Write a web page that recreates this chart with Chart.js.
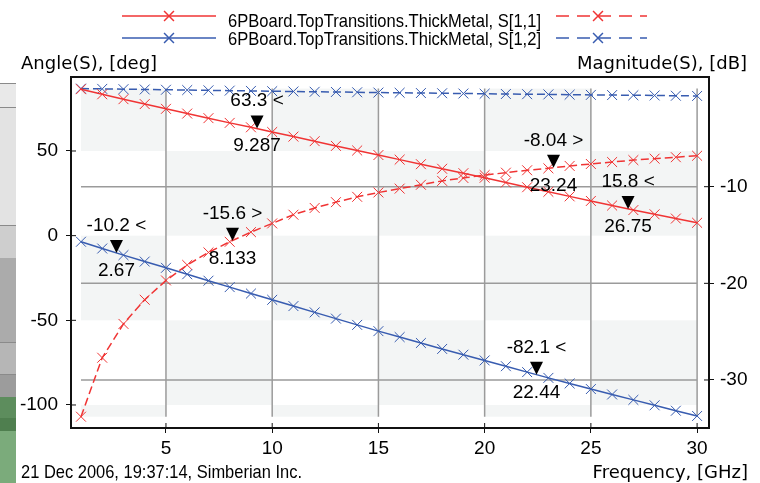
<!DOCTYPE html>
<html>
<head>
<meta charset="utf-8">
<script src="https://cdn.jsdelivr.net/npm/chart.js@4.4.0/dist/chart.umd.min.js"></script>
<style>
	html, body { margin: 0; padding: 0; background: #fff; }
	canvas { display: block; }
</style>
</head>
<body>
<canvas id="chart" width="760" height="483"></canvas>
<script>
// frequency points, GHz
const freq = [1, 2, 3, 4, 5, 6, 7, 8, 9, 10, 11, 12, 13, 14, 15, 16, 17, 18, 19, 20, 21, 22, 23, 24, 25, 26, 27, 28, 29, 30];

// Angle(S), deg  (left axis)
const angleS11 = [86.5, 83.5, 80.6, 77.7, 74.9, 72.1, 69.4, 66.6, 64.0, 61.2, 58.5, 55.8, 53.0, 50.3, 47.6, 44.9, 42.2, 39.5, 36.9, 34.2, 31.4, 28.6, 25.9, 23.2, 20.5, 17.8, 15.1, 12.6, 10.1, 7.6];
const angleS12 = [-3.6, -7.6, -11.5, -15.3, -19.0, -22.8, -26.6, -30.4, -34.2, -37.9, -41.6, -45.3, -49.0, -52.7, -56.4, -59.9, -63.4, -66.9, -70.3, -73.7, -77.1, -80.6, -84.0, -87.3, -90.6, -93.8, -97.0, -100.2, -103.4, -106.5];

// Magnitude(S), dB  (right axis)
const magS11 = [-33.8, -27.7, -24.2, -21.7, -19.7, -18.1, -16.8, -15.7, -14.7, -13.8, -12.9, -12.2, -11.6, -11.05, -10.6, -10.2, -9.8, -9.4, -9.1, -8.8, -8.55, -8.3, -8.1, -7.85, -7.65, -7.45, -7.25, -7.1, -6.95, -6.8];
const magS12 = [0.15, 0.12, 0.09, 0.06, 0.03, 0.0, -0.03, -0.06, -0.09, -0.12, -0.15, -0.18, -0.2, -0.23, -0.26, -0.28, -0.31, -0.33, -0.36, -0.38, -0.41, -0.43, -0.45, -0.48, -0.5, -0.52, -0.54, -0.56, -0.59, -0.61];

const seriesNames = ['6PBoard.TopTransitions.ThickMetal, S[1,1]', '6PBoard.TopTransitions.ThickMetal, S[1,2]'];

const xTicks = [5, 10, 15, 20, 25, 30];
const leftTicks = [-100, -50, 0, 50];
const rightTicks = [-30, -20, -10];

// marker read-outs
const markerFreq = [2.67, 8.133, 9.287, 23.24, 26.75, 22.44];
const markerValue = [-10.2, -15.6, 63.3, -8.04, 15.8, -82.1];
const markerAxis = ['y', 'y1', 'y', 'y1', 'y', 'y'];

const leftTitle = 'Angle(S), [deg]';
const rightTitle = 'Magnitude(S), [dB]';
const bottomTitle = 'Frequency, [GHz]';
const stamp = '21 Dec 2006, 19:37:14, Simberian Inc.';

const RED = 'rgb(240, 52, 52)';
const BLUE = 'rgb(56, 92, 176)';
const FONT = '19px "Liberation Sans", Arial, sans-serif';
const TITLE_FONT = '18px "DejaVu Sans", sans-serif';

const toXY = (arr) => freq.map((f, i) => ({x: f, y: arr[i]}));

const fixTicks = (list) => (scale) => {
	scale.ticks = list.map(v => ({value: v}));
};

// window edge that shows through on the left
const backdrop = {
	id: 'backdrop',
	beforeDraw(chart) {
		const ctx = chart.ctx;
		ctx.save();
		ctx.fillStyle = '#fff';
		ctx.fillRect(0, 0, chart.width, chart.height);
		const bands = [
			[83, 107, '#e9e9e9'], [107, 225, '#e3e3e3'], [225, 258, '#cecece'],
			[258, 342, '#ababab'], [342, 374, '#b6b6b6'], [374, 397, '#9c9c9c'],
			[397, 418, '#5d8d5d'], [418, 431, '#4f7f4f'], [431, 483, '#7bab7b']
		];
		bands.forEach(b => {
			ctx.fillStyle = b[2];
			ctx.fillRect(0, b[0], 16, b[1] - b[0]);
		});
		ctx.fillStyle = '#8a8a8a';
		[83, 107, 225, 342, 374].forEach(y => ctx.fillRect(0, y, 16, 1));
		ctx.restore();
	}
};

// checkerboard, grid lines inside the data box, frame top
const plotBox = {
	id: 'plotBox',
	beforeDatasetsDraw(chart) {
		const {ctx, scales, chartArea} = chart;
		const xs = scales.x, yl = scales.y, yr = scales.y1;
		let top = Infinity, bottom = -Infinity;
		chart.data.datasets.forEach(ds => {
			const s = scales[ds.yAxisID];
			ds.data.forEach(p => {
				const py = s.getPixelForValue(p.y);
				top = Math.min(top, py);
				bottom = Math.max(bottom, py);
			});
		});
		const left = xs.getPixelForValue(freq[0]);
		const right = xs.getPixelForValue(freq[freq.length - 1]);

		const cols = [left, ...xTicks.map(v => xs.getPixelForValue(v))];
		const rows = [top, ...leftTicks.slice().reverse().map(v => yl.getPixelForValue(v)), bottom];

		ctx.save();
		ctx.fillStyle = '#f3f5f5';
		for (let i = 0; i < cols.length - 1; i++) {
			for (let j = 0; j < rows.length - 1; j++) {
				if ((i + j) % 2 === 0) {
					const y0 = Math.max(rows[j], top), y1 = Math.min(rows[j + 1], bottom);
					if (y1 > y0) ctx.fillRect(cols[i], y0, cols[i + 1] - cols[i], y1 - y0);
				}
			}
		}

		ctx.strokeStyle = '#9b9b9b';
		ctx.lineWidth = 1.5;
		ctx.beginPath();
		xTicks.forEach(v => {
			const px = xs.getPixelForValue(v);
			ctx.moveTo(px, top);
			ctx.lineTo(px, bottom);
		});
		rightTicks.forEach(v => {
			const py = yr.getPixelForValue(v);
			ctx.moveTo(left, py);
			ctx.lineTo(right, py);
		});
		ctx.stroke();

		// inner halves of the tick marks and the top of the frame
		ctx.strokeStyle = '#111';
		ctx.lineWidth = 1;
		ctx.beginPath();
		xTicks.forEach(v => {
			const px = xs.getPixelForValue(v);
			ctx.moveTo(px, chartArea.bottom);
			ctx.lineTo(px, chartArea.bottom - 5);
		});
		leftTicks.forEach(v => {
			const py = yl.getPixelForValue(v);
			ctx.moveTo(chartArea.left, py);
			ctx.lineTo(chartArea.left + 5, py);
		});
		rightTicks.forEach(v => {
			const py = yr.getPixelForValue(v);
			ctx.moveTo(chartArea.right, py);
			ctx.lineTo(chartArea.right - 5, py);
		});
		ctx.stroke();
		ctx.lineWidth = 2;
		ctx.beginPath();
		ctx.moveTo(chartArea.left, chartArea.top);
		ctx.lineTo(chartArea.right, chartArea.top);
		ctx.stroke();
		ctx.restore();
	}
};

// triangle markers with value / frequency read-outs
const readouts = {
	id: 'readouts',
	afterDatasetsDraw(chart) {
		const {ctx, scales} = chart;
		ctx.save();
		ctx.fillStyle = '#000';
		ctx.font = FONT;
		ctx.textAlign = 'center';
		ctx.textBaseline = 'alphabetic';
		markerFreq.forEach((f, i) => {
			const px = scales.x.getPixelForValue(f);
			const py = scales[markerAxis[i]].getPixelForValue(markerValue[i]);
			ctx.beginPath();
			ctx.moveTo(px - 6.5, py - 13);
			ctx.lineTo(px + 6.5, py - 13);
			ctx.lineTo(px, py);
			ctx.closePath();
			ctx.fill();
			const side = markerAxis[i] === 'y' ? '<' : '>';
			ctx.fillText(String(markerValue[i]) + ' ' + side, px, py - 22);
			ctx.fillText(String(f), px, py + 23);
		});
		ctx.restore();
	}
};

// two-row legend: solid (angle) sample, name, dashed (magnitude) sample
const pairLegend = {
	id: 'pairLegend',
	afterDraw(chart) {
		const ctx = chart.ctx;
		const ds = chart.data.datasets;
		const rowY = [16, 38];
		const baseY = [27, 45];
		ctx.save();
		for (let r = 0; r < 2; r++) {
			const solid = ds[r], dashed = ds[r + 2];
			ctx.strokeStyle = solid.borderColor;
			ctx.lineWidth = 1.5;
			ctx.beginPath();
			ctx.moveTo(122, rowY[r]);
			ctx.lineTo(216, rowY[r]);
			ctx.stroke();
			Chart.helpers.drawPoint(ctx, {pointStyle: 'crossRot', radius: 7, borderWidth: 1}, 169, rowY[r]);

			ctx.fillStyle = '#000';
			ctx.font = FONT;
			ctx.textAlign = 'left';
			ctx.textBaseline = 'alphabetic';
			ctx.fillText(solid.label, 228, baseY[r], 313);

			ctx.strokeStyle = dashed.borderColor;
			ctx.lineWidth = 1.5;
			ctx.setLineDash([13, 8]);
			ctx.beginPath();
			ctx.moveTo(556, rowY[r]);
			ctx.lineTo(647, rowY[r]);
			ctx.stroke();
			ctx.setLineDash([]);
			Chart.helpers.drawPoint(ctx, {pointStyle: 'crossRot', radius: 7, borderWidth: 1}, 598, rowY[r]);
		}

		// axis titles and time stamp
		ctx.fillStyle = '#000';
		ctx.font = TITLE_FONT;
		ctx.textAlign = 'left';
		ctx.fillText(leftTitle, 21, 69);
		ctx.textAlign = 'right';
		ctx.fillText(rightTitle, 747, 69);
		ctx.fillText(bottomTitle, 748, 478);
		ctx.font = FONT;
		ctx.textAlign = 'left';
		ctx.fillText(stamp, 21, 478, 281);
		ctx.restore();
	}
};

const lineSet = (label, arr, color, axis, dashed) => ({
	label: label,
	data: toXY(arr),
	yAxisID: axis,
	borderColor: color,
	backgroundColor: color,
	borderWidth: 1.5,
	borderDash: dashed ? [8, 4] : [],
	pointStyle: 'crossRot',
	pointRadius: 7,
	pointBorderWidth: 1,
	pointBorderColor: color,
	fill: false,
	tension: 0
});

const tickFont = {family: '"Liberation Sans", Arial, sans-serif', size: 19};

new Chart(document.getElementById('chart').getContext('2d'), {
	type: 'line',
	data: {
		datasets: [
			lineSet(seriesNames[0], angleS11, RED, 'y', false),
			lineSet(seriesNames[1], angleS12, BLUE, 'y', false),
			lineSet(seriesNames[0], magS11, RED, 'y1', true),
			lineSet(seriesNames[1], magS12, BLUE, 'y1', true)
		]
	},
	options: {
		responsive: false,
		animation: false,
		layout: {padding: {left: 0, right: 0, top: 77, bottom: 0}},
		plugins: {
			legend: {display: false},
			tooltip: {enabled: false}
		},
		scales: {
			x: {
				type: 'linear',
				min: 0.53,
				max: 30.56,
				afterBuildTicks: fixTicks(xTicks),
				afterFit: (s) => { s.height = 55; },
				grid: {drawOnChartArea: false, drawTicks: true, tickLength: 5, color: '#111'},
				border: {color: '#111', width: 2},
				ticks: {color: '#000', font: tickFont, padding: 4, maxRotation: 0}
			},
			y: {
				position: 'left',
				min: -113.6,
				max: 93.7,
				afterBuildTicks: fixTicks(leftTicks),
				afterFit: (s) => { s.width = 71; },
				grid: {drawOnChartArea: false, drawTicks: true, tickLength: 5, color: '#111'},
				border: {color: '#111', width: 2},
				ticks: {color: '#000', font: tickFont, padding: 8}
			},
			y1: {
				position: 'right',
				min: -34.97,
				max: 1.35,
				afterBuildTicks: fixTicks(rightTicks),
				afterFit: (s) => { s.width = 51; },
				grid: {drawOnChartArea: false, drawTicks: true, tickLength: 5, color: '#111'},
				border: {color: '#111', width: 2},
				ticks: {color: '#000', font: tickFont, padding: 6}
			}
		}
	},
	plugins: [backdrop, plotBox, readouts, pairLegend]
});
</script>
</body>
</html>
